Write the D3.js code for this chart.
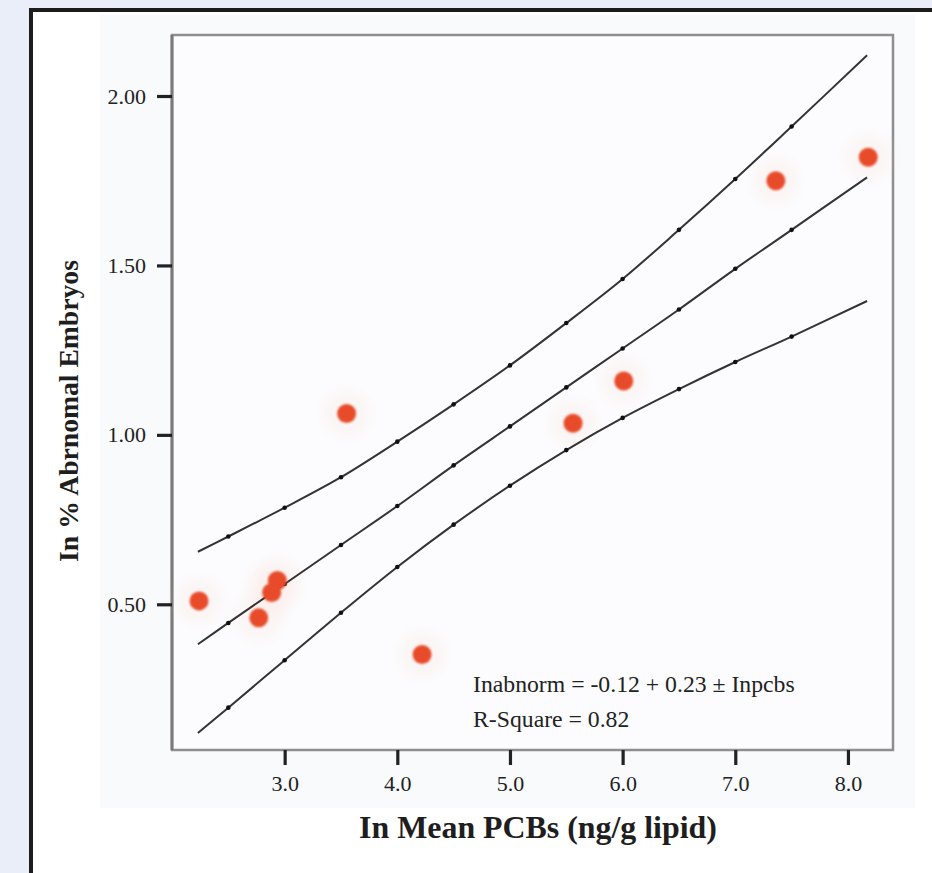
<!DOCTYPE html>
<html><head><meta charset="utf-8">
<script src="https://cdn.jsdelivr.net/npm/d3@7"></script>
<style>html,body{margin:0;padding:0;background:#e9eef8;} svg{display:block}</style>
</head><body>
<svg id="c" width="932" height="873"></svg>
<script>
// ---- data ----
const pcbs     = [2.24, 2.77, 2.885, 2.935, 3.55, 4.22, 5.56, 6.01, 7.36, 8.18];
const abnormal = [0.51, 0.46, 0.535, 0.57, 1.063, 0.352, 1.034, 1.159, 1.75, 1.819];
const fitX     = [2.23, 2.5, 3.0, 3.5, 4.0, 4.5, 5.0, 5.5, 6.0, 6.5, 7.0, 7.5, 8.17];
const fitMean  = [0.382, 0.445, 0.56, 0.675, 0.79, 0.91, 1.025, 1.14, 1.255, 1.37, 1.49, 1.605, 1.76];
const fitUpper = [0.655, 0.70, 0.785, 0.875, 0.98, 1.09, 1.205, 1.33, 1.46, 1.605, 1.755, 1.91, 2.12];
const fitLower = [0.12, 0.195, 0.335, 0.475, 0.61, 0.735, 0.85, 0.955, 1.05, 1.135, 1.215, 1.29, 1.395];
const xTicks = [3, 4, 5, 6, 7, 8];
const yTicks = [0.5, 1.0, 1.5, 2.0];
const xTitle = "In Mean PCBs (ng/g lipid)";
const yTitle = "In % Abrnomal Embryos";
const equation = "Inabnorm = -0.12 + 0.23 \u00B1 Inpcbs";
const rSquare = "R-Square = 0.82";

const FONT = "'Liberation Serif','Times New Roman',serif";
const svg = d3.select("#c");

const x = d3.scaleLinear().domain([2.0, 8.4]).range([172, 893]);
const y = d3.scaleLinear().domain([0.07, 2.18]).range([750, 35]);

const defs = svg.append("defs");
defs.append("filter").attr("id", "soft").attr("x", "-50%").attr("y", "-50%").attr("width", "200%").attr("height", "200%")
  .append("feGaussianBlur").attr("stdDeviation", 1.3);
defs.append("filter").attr("id", "halo").attr("x", "-100%").attr("y", "-100%").attr("width", "300%").attr("height", "300%")
  .append("feGaussianBlur").attr("stdDeviation", 7);

// page box
svg.append("rect").attr("x", 31).attr("y", 10).attr("width", 910).attr("height", 870).attr("fill", "#ffffff");
svg.append("line").attr("x1", 31).attr("x2", 31).attr("y1", 8).attr("y2", 873).attr("stroke", "#1c1c1c").attr("stroke-width", 4);
svg.append("line").attr("x1", 29).attr("x2", 932).attr("y1", 10).attr("y2", 10).attr("stroke", "#1c1c1c").attr("stroke-width", 4);
svg.append("rect").attr("x", 100).attr("y", 15).attr("width", 815).attr("height", 793).attr("fill", "#f9fafc");

// plot frame
const [x0, x1] = x.range(), [y0, y1] = y.range();
svg.append("rect").attr("x", x0).attr("y", y1).attr("width", x1 - x0).attr("height", y0 - y1)
  .attr("fill", "#fcfcfe").attr("stroke", "#8e8e8e").attr("stroke-width", 2.5);
svg.append("line").attr("x1", x0).attr("x2", x0).attr("y1", y1).attr("y2", y0).attr("stroke", "#7a7a7a").attr("stroke-width", 3);

// faint halos of the points
svg.append("g").selectAll("circle").data(pcbs).join("circle")
  .attr("cx", d => x(d)).attr("cy", (d, i) => y(abnormal[i])).attr("r", 24)
  .attr("fill", "#f8d8cc").attr("opacity", 0.18).attr("filter", "url(#halo)");

// fit lines
const line = d3.line().x(d => x(d[0])).y(d => y(d[1])).curve(d3.curveCatmullRom);
[fitUpper, fitMean, fitLower].forEach(arr => {
  const pts = fitX.map((v, i) => [v, arr[i]]);
  svg.append("path").datum(pts).attr("d", line).attr("fill", "none")
    .attr("stroke", "#333").attr("stroke-width", 2);
  svg.append("g").selectAll("circle").data(pts.slice(1, -1)).join("circle")
    .attr("cx", d => x(d[0])).attr("cy", d => y(d[1])).attr("r", 2.3).attr("fill", "#111");
});

// points
svg.append("g").selectAll("circle").data(pcbs).join("circle")
  .attr("cx", d => x(d)).attr("cy", (d, i) => y(abnormal[i])).attr("r", 9.5)
  .attr("fill", "#e84c2a").attr("filter", "url(#soft)");

// axes
const yAxis = svg.append("g").attr("transform", `translate(${x0},0)`)
  .call(d3.axisLeft(y).tickValues(yTicks).tickFormat(d3.format(".2f")).tickSize(15).tickPadding(11));
const xAxis = svg.append("g").attr("transform", `translate(0,${y0})`)
  .call(d3.axisBottom(x).tickValues(xTicks).tickFormat(d3.format(".1f")).tickSize(15).tickPadding(10));
[yAxis, xAxis].forEach(g => {
  g.select(".domain").remove();
  g.selectAll(".tick line").attr("stroke", "#222").attr("stroke-width", 3.2);
  g.selectAll(".tick text").attr("font-family", FONT).attr("font-size", 22).attr("fill", "#222");
});

// titles
function fitText(sel, target) {
  const w = sel.node().getComputedTextLength();
  const fs = parseFloat(sel.attr("font-size"));
  sel.attr("font-size", fs * target / w);
}
const xt = svg.append("text").attr("x", 538).attr("y", 838).attr("text-anchor", "middle")
  .attr("font-family", FONT).attr("font-weight", "bold").attr("font-size", 26).attr("fill", "#1e1e1e").text(xTitle);
fitText(xt, 358);
const yt = svg.append("text").attr("transform", "translate(78,411) rotate(-90)").attr("text-anchor", "middle")
  .attr("font-family", FONT).attr("font-weight", "bold").attr("font-size", 26).attr("fill", "#1e1e1e").text(yTitle);
fitText(yt, 302);

// annotation
const eq = svg.append("text").attr("x", 473).attr("y", 692).attr("font-family", FONT).attr("font-size", 24)
  .attr("fill", "#222").text(equation);
fitText(eq, 322);
svg.append("text").attr("x", 473).attr("y", 727).attr("font-family", FONT).attr("font-size", eq.attr("font-size"))
  .attr("fill", "#222").text(rSquare);
</script>
</body></html>
